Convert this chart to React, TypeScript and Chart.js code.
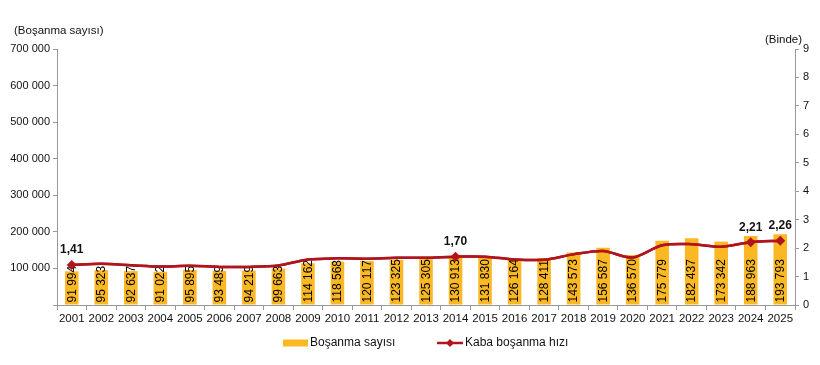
import React, { useEffect, useRef } from "react";
import { Chart, registerables } from "chart.js";

Chart.register(...registerables);

const years = ["2001","2002","2003","2004","2005","2006","2007","2008","2009","2010","2011","2012","2013","2014","2015","2016","2017","2018","2019","2020","2021","2022","2023","2024","2025"];
const divorces = [91994, 95323, 92637, 91022, 95895, 93489, 94219, 99663, 114162, 118568, 120117, 123325, 125305, 130913, 131830, 126164, 128411, 143573, 156587, 136570, 175779, 182437, 173342, 188963, 193793];
const rate = [1.41, 1.45, 1.40, 1.35, 1.38, 1.34, 1.34, 1.39, 1.60, 1.64, 1.63, 1.66, 1.66, 1.70, 1.70, 1.60, 1.59, 1.78, 1.90, 1.67, 2.10, 2.14, 2.05, 2.21, 2.26];
const labeledRate = ["2001", "2014", "2024", "2025"];

const leftTitle = "(Boşanma sayısı)";
const rightTitle = "(Binde)";
const barLegend = "Boşanma sayısı";
const lineLegend = "Kaba boşanma hızı";

const BAR = "#FBB823";
const LINE = "#B0141C";
const FONT = "'Liberation Sans', Arial, sans-serif";

const fmtThousands = (v: number) => {
  const s = Math.round(v).toString();
  return s.replace(/\B(?=(\d{3})+(?!\d))/g, " ");
};
const fmtRate = (v: number) => v.toFixed(2).replace(".", ",");

const drawDiamond = (ctx: CanvasRenderingContext2D, x: number, y: number, r: number) => {
  ctx.beginPath();
  ctx.moveTo(x, y - r);
  ctx.lineTo(x + r, y);
  ctx.lineTo(x, y + r);
  ctx.lineTo(x - r, y);
  ctx.closePath();
  ctx.fill();
};

const overlay = {
  id: "overlay",
  afterDatasetsDraw(chart: any) {
    const ctx: CanvasRenderingContext2D = chart.ctx;
    ctx.save();
    const barMeta = chart.getDatasetMeta(0);
    ctx.font = `12px ${FONT}`;
    ctx.fillStyle = "#000";
    ctx.textAlign = "left";
    ctx.textBaseline = "middle";
    barMeta.data.forEach((el: any, i: number) => {
      ctx.save();
      ctx.translate(el.x, el.base - 2);
      ctx.rotate(-Math.PI / 2);
      ctx.fillText(fmtThousands(divorces[i]), 0, 0.5);
      ctx.restore();
    });
    const lineMeta = chart.getDatasetMeta(1);
    lineMeta.dataset.draw(ctx);
    ctx.fillStyle = LINE;
    lineMeta.data.forEach((el: any, i: number) => {
      if (labeledRate.includes(years[i])) drawDiamond(ctx, el.x, el.y, 5);
    });
    ctx.font = `bold 12px ${FONT}`;
    ctx.fillStyle = "#111";
    ctx.textAlign = "center";
    ctx.textBaseline = "alphabetic";
    lineMeta.data.forEach((el: any, i: number) => {
      if (labeledRate.includes(years[i])) ctx.fillText(fmtRate(rate[i]), el.x, el.y - 11.5);
    });
    ctx.restore();
  },
  afterDraw(chart: any) {
    const ctx: CanvasRenderingContext2D = chart.ctx;
    ctx.save();
    ctx.font = `11.5px ${FONT}`;
    ctx.fillStyle = "#111";
    ctx.textBaseline = "middle";
    ctx.textAlign = "left";
    ctx.fillText(leftTitle, 14, 31);
    ctx.textAlign = "right";
    ctx.fillText(rightTitle, 802, 40);
    ctx.textAlign = "left";
    ctx.font = `12px ${FONT}`;
    const ly = 343;
    ctx.fillStyle = BAR;
    ctx.fillRect(283, ly - 3.5, 25, 7);
    ctx.fillStyle = "#111";
    ctx.fillText(barLegend, 310, ly);
    ctx.strokeStyle = LINE;
    ctx.lineWidth = 2.5;
    ctx.beginPath();
    ctx.moveTo(437, ly);
    ctx.lineTo(463, ly);
    ctx.stroke();
    ctx.fillStyle = LINE;
    drawDiamond(ctx, 450, ly, 4);
    ctx.fillStyle = "#111";
    ctx.fillText(lineLegend, 465, ly);
    ctx.restore();
  },
};

export default function App() {
  const ref = useRef<HTMLCanvasElement | null>(null);
  useEffect(() => {
    document.body.style.margin = "0";
    const canvas = ref.current;
    if (!canvas) return;
    const chart = new Chart(canvas, {
      type: "bar",
      data: {
        labels: years,
        datasets: [
          {
            type: "bar",
            label: barLegend,
            data: divorces,
            backgroundColor: BAR,
            yAxisID: "y",
            barPercentage: 0.46,
            categoryPercentage: 1,
            order: 2,
          },
          {
            type: "line",
            label: lineLegend,
            data: rate,
            borderColor: LINE,
            backgroundColor: LINE,
            borderWidth: 2.5,
            pointRadius: 0,
            tension: 0.3,
            yAxisID: "y1",
            order: 1,
          },
        ],
      },
      options: {
        animation: false,
        responsive: false,
        maintainAspectRatio: false,
        events: [],
        layout: { padding: { top: 49, left: 0, right: 0, bottom: 0 } },
        plugins: { legend: { display: false }, tooltip: { enabled: false } },
        scales: {
          x: {
            grid: { drawOnChartArea: false, drawTicks: true, tickLength: 5, color: "#999", offset: true },
            border: { display: true, color: "#999" },
            ticks: { color: "#111", font: { family: FONT, size: 11.5 }, padding: 2, maxRotation: 0, autoSkip: false },
            afterFit: (s: any) => { s.height = 60; },
          },
          y: {
            position: "left",
            min: 0,
            max: 700000,
            grid: { drawOnChartArea: false, drawTicks: true, tickLength: 4, color: "#999" },
            border: { display: true, color: "#999" },
            ticks: {
              stepSize: 100000,
              color: "#111",
              font: { family: FONT, size: 11 },
              padding: 3,
              callback: (v: any) => (v === 0 ? "" : fmtThousands(Number(v))),
            },
            afterFit: (s: any) => { s.width = 57; },
          },
          y1: {
            position: "right",
            min: 0,
            max: 9,
            grid: { drawOnChartArea: false, drawTicks: true, tickLength: 4, color: "#999" },
            border: { display: true, color: "#999" },
            ticks: { stepSize: 1, color: "#111", font: { family: FONT, size: 11 }, padding: 4 },
            afterFit: (s: any) => { s.width = 25; },
          },
        },
      },
      plugins: [overlay],
    });
    return () => chart.destroy();
  }, []);
  return (
    <div style={{ position: "fixed", left: 0, top: 0, width: 820, height: 365, background: "#fff" }}>
      <canvas ref={ref} width={820} height={365} style={{ width: 820, height: 365 }} />
    </div>
  );
}
